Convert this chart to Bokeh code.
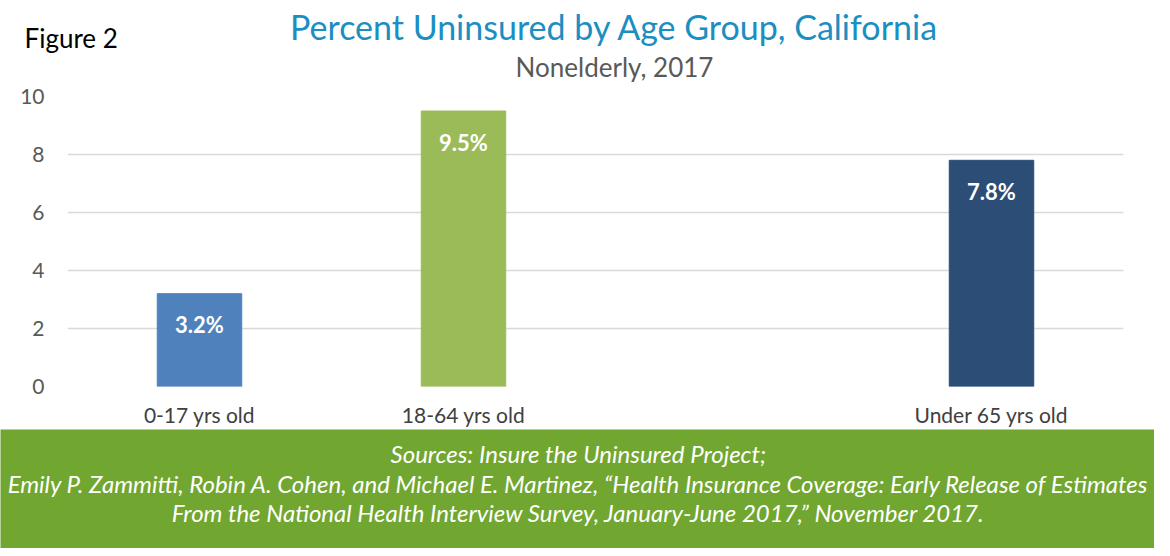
from bokeh.plotting import figure
from bokeh.models import FactorRange, Label, ColumnDataSource, Range1d
from bokeh.layouts import column
from bokeh.core.properties import value
from bokeh.embed import file_html
from bokeh.resources import INLINE

categories = ["0-17 yrs old", "18-64 yrs old", "Under 65 yrs old"]
uninsured = [3.2, 9.5, 7.8]
bar_colors = ["#4f81bd", "#9bbb59", "#2c4d75"]
y_ticks = [0, 2, 4, 6, 8, 10]
title_text = "Percent Uninsured by Age Group, California"
subtitle_text = "Nonelderly, 2017"
figure_label = "Figure 2"
source_lines = [
    "Sources: Insure the Uninsured Project;",
    "Emily P. Zammitti, Robin A. Cohen, and Michael E. Martinez, \u201cHealth Insurance Coverage: Early Release of Estimates",
    "From the National Health Interview Survey, January-June 2017,\u201d November 2017.",
]

FONT = "Lato"
W = 1154

# ---------- header ----------
HH = 84
head = figure(width=W, height=HH, output_backend="svg", toolbar_location=None,
              x_range=Range1d(0, W), y_range=Range1d(0, HH), min_border=0)
head.axis.visible = False
head.grid.visible = False
head.outline_line_color = None
head.add_layout(Label(x=614, y=HH - 26, text=title_text, text_align="center",
                      text_baseline="middle", text_font=FONT, text_font_size="34px",
                      text_color="#1b8ec2"))
head.add_layout(Label(x=614, y=HH - 66, text=subtitle_text, text_align="center",
                      text_baseline="middle", text_font=FONT, text_font_size="26px",
                      text_color="#595959"))
head.add_layout(Label(x=24, y=HH - 37, text=figure_label, text_align="left",
                      text_baseline="middle", text_font=FONT, text_font_size="26px",
                      text_color="#000000"))

# ---------- main chart ----------
factors = [categories[0], categories[1], " ", categories[2]]
src = ColumnDataSource(dict(cat=categories, val=uninsured, color=bar_colors,
                            lab=["%.1f%%" % v for v in uninsured]))
p = figure(width=W, height=345, output_backend="svg", toolbar_location=None,
           x_range=FactorRange(*factors, range_padding=0), y_range=Range1d(0, 10),
           min_border_top=12, min_border_bottom=42, min_border_left=67, min_border_right=31)
p.vbar(x="cat", top="val", width=0.32, color="color", source=src)
p.text(x="cat", y="val", text="lab", source=src, text_align="center", text_baseline="middle",
       y_offset=31, text_color="white", text_font=value(FONT), text_font_style="bold",
       text_font_size="22px")
p.outline_line_color = None
p.xgrid.visible = False
p.ygrid.grid_line_color = "#d9d9d9"
p.ygrid.grid_line_width = 1.5
p.yaxis.ticker = y_ticks
p.yaxis.axis_line_color = None
p.yaxis.major_tick_line_color = None
p.yaxis.minor_tick_line_color = None
p.yaxis.major_label_text_font = FONT
p.yaxis.major_label_text_font_size = "21px"
p.yaxis.major_label_text_color = "#595959"
p.yaxis.major_label_standoff = 17
p.xaxis.axis_line_color = None
p.xaxis.major_tick_line_color = None
p.xaxis.major_label_text_font = FONT
p.xaxis.major_label_text_font_size = "21px"
p.xaxis.major_label_text_color = "#404040"
p.xaxis.major_label_standoff = 9

# ---------- footer ----------
FH = 119
foot = figure(width=W, height=FH, output_backend="svg", toolbar_location=None,
              x_range=Range1d(0, W), y_range=Range1d(0, FH), min_border=0,
              background_fill_color="#71a630", border_fill_color="#71a630")
foot.axis.visible = False
foot.grid.visible = False
foot.outline_line_color = None
for line, cy in zip(source_lines, [24, 54, 83]):
    foot.add_layout(Label(x=578, y=FH - cy, text=line, text_align="center",
                          text_baseline="middle", text_font=FONT, text_font_size="24px",
                          text_font_style="italic", text_color="white"))

layout = column(column(head), p, column(foot))
open("out.html", "w").write(file_html(layout, INLINE))
